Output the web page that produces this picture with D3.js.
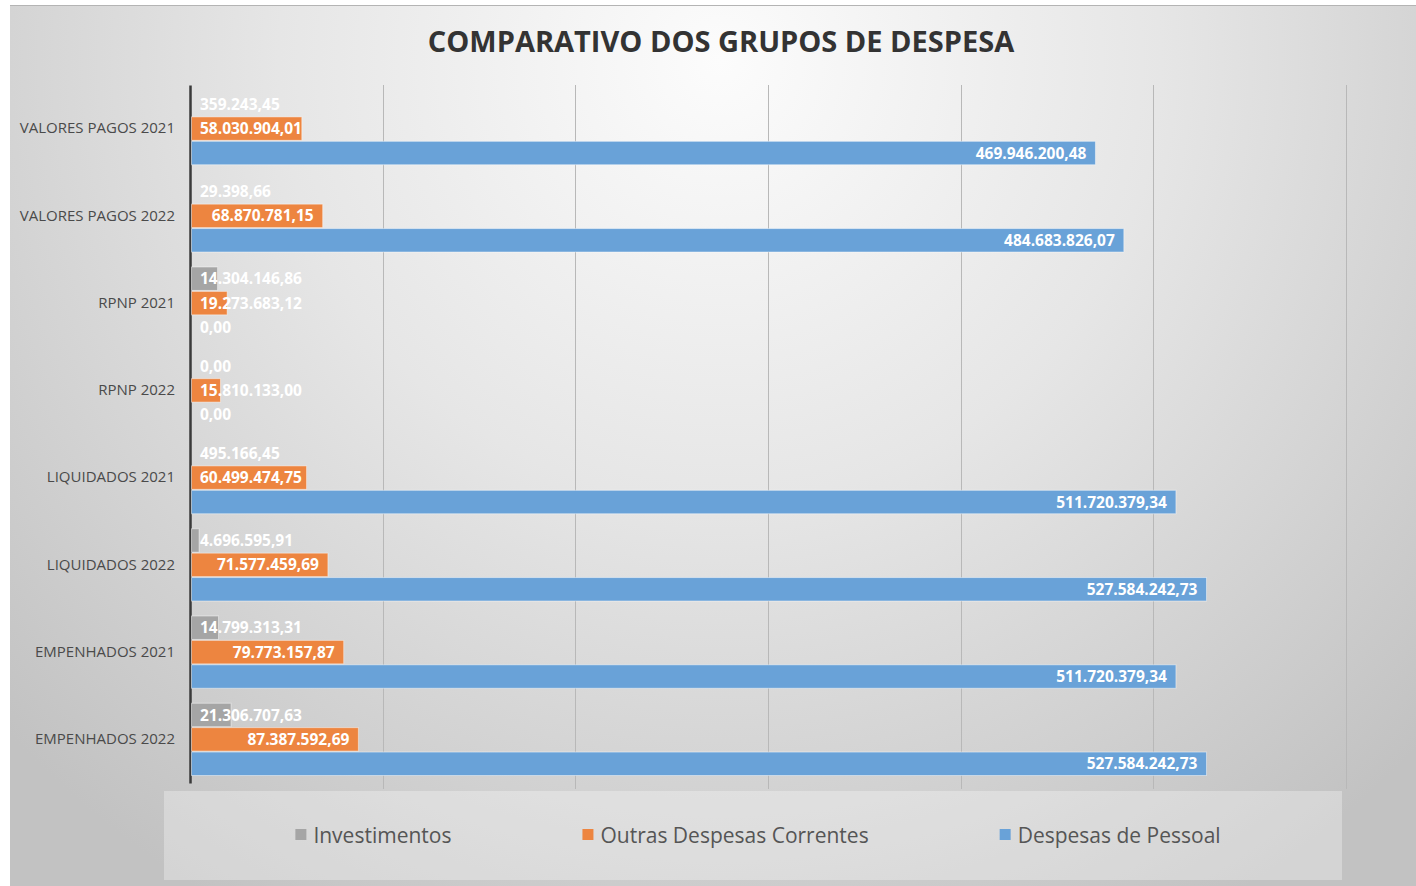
<!DOCTYPE html>
<html>
<head>
<meta charset="utf-8">
<script src="https://cdn.jsdelivr.net/npm/d3@7"></script>
<style>
  html, body { margin: 0; padding: 0; background: #fff; }
  svg { display: block; font-family: "Open Sans", sans-serif; }
</style>
</head>
<body>
<div id="chart"></div>
<script>
const categories = ["VALORES PAGOS 2021", "VALORES PAGOS 2022", "RPNP 2021", "RPNP 2022",
  "LIQUIDADOS 2021", "LIQUIDADOS 2022", "EMPENHADOS 2021", "EMPENHADOS 2022"];
const seriesNames = ["Investimentos", "Outras Despesas Correntes", "Despesas de Pessoal"];
const investimentos = [359243.45, 29398.66, 14304146.86, 0, 495166.45, 4696595.91, 14799313.31, 21306707.63];
const outrasCorrentes = [58030904.01, 68870781.15, 19273683.12, 15810133.00, 60499474.75, 71577459.69, 79773157.87, 87387592.69];
const pessoal = [469946200.48, 484683826.07, 0, 0, 511720379.34, 527584242.73, 511720379.34, 527584242.73];
const xTicks = [0, 100e6, 200e6, 300e6, 400e6, 500e6, 600e6];

const colors = { "Investimentos": "#a5a5a5", "Outras Despesas Correntes": "#ed8540", "Despesas de Pessoal": "#69a2d8" };
const seriesValues = [investimentos, outrasCorrentes, pessoal];

const width = 1416, height = 886;
const margin = { left: 190, right: 70, top: 85, bottom: 103 };

const svg = d3.select("#chart").append("svg")
  .attr("width", width).attr("height", height);

// background gradient
const defs = svg.append("defs");
const grad = defs.append("radialGradient").attr("id", "bg")
  .attr("gradientUnits", "userSpaceOnUse")
  .attr("cx", 720).attr("cy", 60).attr("r", 980);
grad.append("stop").attr("offset", 0).attr("stop-color", "#fcfcfc");
grad.append("stop").attr("offset", 0.45).attr("stop-color", "#e6e6e6");
grad.append("stop").attr("offset", 1).attr("stop-color", "#c2c2c2");

svg.append("rect").attr("x", 10).attr("y", 6).attr("width", width - 10).attr("height", height - 6)
  .attr("fill", "url(#bg)");
svg.append("line").attr("x1", 10).attr("x2", width).attr("y1", 5.5).attr("y2", 5.5)
  .attr("stroke", "#b4b4b4").attr("stroke-width", 1);

// title
svg.append("text")
  .attr("x", 721).attr("y", 52)
  .attr("text-anchor", "middle")
  .attr("font-size", 29).attr("font-weight", 700).attr("fill", "#333333")
  .text("COMPARATIVO DOS GRUPOS DE DESPESA");

const x = d3.scaleLinear().domain([0, 600e6]).range([margin.left, width - margin.right]);
const y0 = d3.scaleBand().domain(categories).range([margin.top, height - margin.bottom]);
const y1 = d3.scaleBand().domain(seriesNames).range([7.5, y0.bandwidth() - 7.5]).paddingInner(0.04);

// gridlines
svg.append("g")
  .selectAll("line").data(xTicks.slice(1)).enter().append("line")
  .attr("x1", d => Math.round(x(d)) + 0.5).attr("x2", d => Math.round(x(d)) + 0.5)
  .attr("y1", margin.top).attr("y2", height - margin.bottom + 6)
  .attr("stroke", "#b8b8b8").attr("stroke-width", 1);

// category axis
const yAxis = svg.append("g")
  .attr("transform", `translate(${margin.left},0)`)
  .call(d3.axisLeft(y0).tickSize(0).tickPadding(15));
yAxis.select(".domain").attr("stroke", "#3a3a3a").attr("stroke-width", 2.5);
yAxis.selectAll("text").attr("font-size", 15).attr("fill", "#4a4a4a")
  .attr("font-family", "'Open Sans', sans-serif");

const loc = d3.formatLocale({ decimal: ",", thousands: ".", grouping: [3], currency: ["", ""] });
const fmt = loc.format(",.2f");

const rows = [];
categories.forEach((c, i) => {
  seriesNames.forEach((s, j) => rows.push({ cat: c, series: s, value: seriesValues[j][i] }));
});

const groups = svg.append("g").selectAll("g").data(categories).enter().append("g")
  .attr("transform", d => `translate(0,${y0(d)})`);

groups.selectAll("rect")
  .data(c => rows.filter(r => r.cat === c))
  .enter().append("rect")
  .attr("x", x(0) + 1.5)
  .attr("y", d => y1(d.series))
  .attr("width", d => Math.max(0, x(d.value) - x(0) - 1.5))
  .attr("height", y1.bandwidth())
  .attr("fill", d => colors[d.series])
  .attr("stroke", d => d.value > 0 ? "rgba(255,255,255,0.45)" : "none")
  .attr("stroke-width", 1);

groups.selectAll("text.val")
  .data(c => rows.filter(r => r.cat === c))
  .enter().append("text")
  .attr("class", "val")
  .attr("y", d => y1(d.series) + y1.bandwidth() / 2)
  .attr("dy", "0.36em")
  .attr("font-size", 15.5).attr("font-weight", 700).attr("fill", "#ffffff")
  .text(d => fmt(d.value))
  .each(function (d) {
    const w = this.getComputedTextLength();
    let end = x(d.value) - 9;
    if (end - w < x(0) + 10) end = x(0) + 10 + w;
    d3.select(this).attr("x", end).attr("text-anchor", "end");
  });

// legend
const legend = svg.append("g");
legend.append("rect")
  .attr("x", 164).attr("y", 791).attr("width", 1178).attr("height", 89)
  .attr("fill", "#ffffff").attr("fill-opacity", 0.3);

const items = legend.selectAll("g.item").data(seriesNames).enter().append("g").attr("class", "item");
items.append("rect").attr("width", 11).attr("height", 11).attr("y", 829)
  .attr("fill", d => colors[d]);
items.append("text").attr("x", 18).attr("y", 835).attr("dy", "0.36em")
  .attr("font-size", 21).attr("fill", "#555555").text(d => d);

const widths = [];
items.each(function () { widths.push(this.getBBox().width); });
const gap = 131;
const total = d3.sum(widths) + gap * (widths.length - 1);
let cursor = 758 - total / 2;
items.each(function (d, i) {
  d3.select(this).attr("transform", `translate(${cursor},0)`);
  cursor += widths[i] + gap;
});
</script>
</body>
</html>
